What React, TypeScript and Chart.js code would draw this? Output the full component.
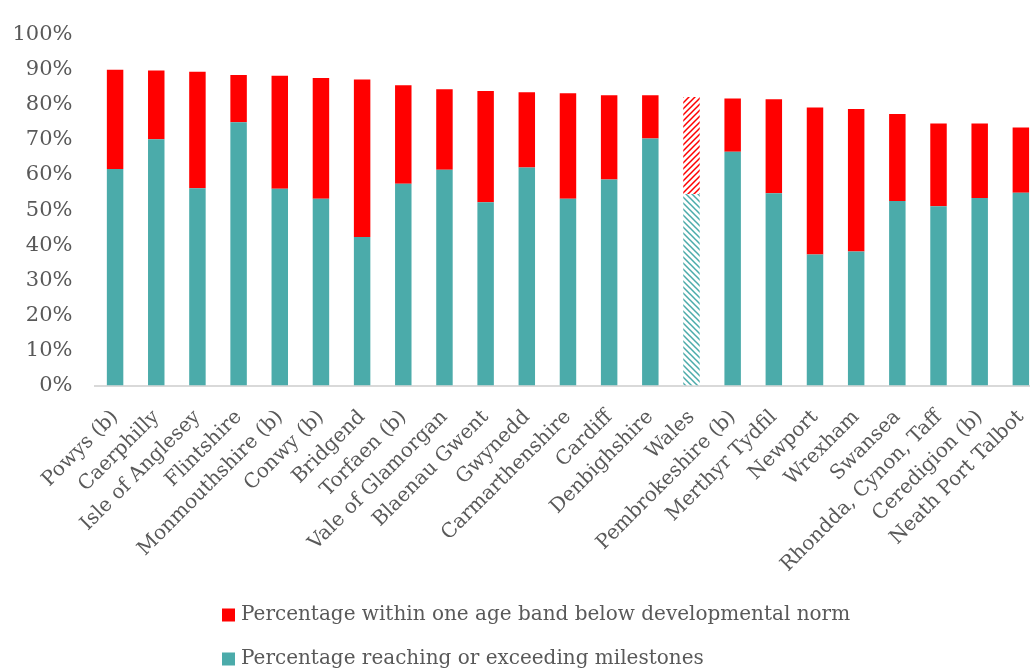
import React, { useEffect, useRef } from "react";
import { Chart, registerables } from "chart.js";

Chart.register(...registerables);

// Local authorities, ordered by total share within or above the developmental norm
const categories = [
  "Powys (b)",
  "Caerphilly",
  "Isle of Anglesey",
  "Flintshire",
  "Monmouthshire (b)",
  "Conwy (b)",
  "Bridgend",
  "Torfaen (b)",
  "Vale of Glamorgan",
  "Blaenau Gwent",
  "Gwynedd",
  "Carmarthenshire",
  "Cardiff",
  "Denbighshire",
  "Wales",
  "Pembrokeshire (b)",
  "Merthyr Tydfil",
  "Newport",
  "Wrexham",
  "Swansea",
  "Rhondda, Cynon, Taff",
  "Ceredigion (b)",
  "Neath Port Talbot",
];

// Percentage reaching or exceeding milestones
const reachingValues = [
  61.7, 70.2, 56.2, 75.0, 56.1, 53.2, 42.3, 57.5, 61.5, 52.2, 62.1, 53.2, 58.7,
  70.4, 54.6, 66.6, 54.8, 37.3, 38.2, 52.6, 51.1, 53.4, 54.9,
];

// Percentage within one age band below developmental norm
const withinOneBandValues = [
  28.3, 19.6, 33.2, 13.5, 32.2, 34.4, 44.9, 28.1, 22.9, 31.7, 21.5, 30.1, 24.0,
  12.3, 27.6, 15.2, 26.8, 41.9, 40.6, 24.8, 23.6, 21.3, 18.6,
];

const yTickValues = [0, 10, 20, 30, 40, 50, 60, 70, 80, 90, 100];

const seriesLabels = [
  "Percentage reaching or exceeding milestones",
  "Percentage within one age band below developmental norm",
];

const TEAL = "#4babaa";
const RED = "#ff0000";
const TEXT = "#595959";
const FONT = "'DejaVu Serif', 'Liberation Serif', serif";
const HIGHLIGHT = "Wales";

// Diagonal hatch used for the all-Wales bar
function makeHatch(color: string, upward: boolean): CanvasPattern | string {
  const size = 6;
  const c = document.createElement("canvas");
  c.width = size;
  c.height = size;
  const g = c.getContext("2d");
  if (!g) return color;
  g.fillStyle = "#ffffff";
  g.fillRect(0, 0, size, size);
  g.strokeStyle = color;
  g.lineWidth = 1.5;
  g.beginPath();
  if (upward) {
    g.moveTo(-1, size + 1);
    g.lineTo(size + 1, -1);
    g.moveTo(-1, 1);
    g.lineTo(1, -1);
    g.moveTo(size - 1, size + 1);
    g.lineTo(size + 1, size - 1);
  } else {
    g.moveTo(-1, -1);
    g.lineTo(size + 1, size + 1);
    g.moveTo(size - 1, -1);
    g.lineTo(size + 1, 1);
    g.moveTo(-1, size - 1);
    g.lineTo(1, size + 1);
  }
  g.stroke();
  return g.createPattern(c, "repeat") || color;
}

// Legend drawn as two left-aligned rows beneath the axis labels
const stackedLegend = {
  id: "stackedLegend",
  afterDraw(chart: Chart) {
    const { ctx } = chart;
    const items = chart.data.datasets
      .map((ds) => ({ label: ds.label as string, color: (ds as any).legendColor as string }))
      .reverse();
    const x = 222;
    const rows = [615, 659];
    ctx.save();
    ctx.font = `20px ${FONT}`;
    ctx.textBaseline = "middle";
    ctx.textAlign = "left";
    items.forEach((item, k) => {
      const y = rows[k];
      ctx.fillStyle = item.color;
      ctx.fillRect(x, y - 6.5, 13, 13);
      ctx.fillStyle = TEXT;
      ctx.fillText(item.label, x + 19, y);
    });
    ctx.restore();
  },
};

export default function App() {
  const canvasRef = useRef<HTMLCanvasElement | null>(null);

  useEffect(() => {
    const canvas = canvasRef.current;
    if (!canvas) return;

    const tealHatch = makeHatch(TEAL, false);
    const redHatch = makeHatch(RED, true);

    const chart = new Chart(canvas, {
      type: "bar",
      data: {
        labels: categories,
        datasets: [
          {
            label: seriesLabels[0],
            data: reachingValues,
            backgroundColor: categories.map((c) => (c === HIGHLIGHT ? tealHatch : TEAL)),
            borderWidth: 0,
            barPercentage: 0.4,
            categoryPercentage: 1,
            legendColor: TEAL,
          } as any,
          {
            label: seriesLabels[1],
            data: withinOneBandValues,
            backgroundColor: categories.map((c) => (c === HIGHLIGHT ? redHatch : RED)),
            borderWidth: 0,
            barPercentage: 0.4,
            categoryPercentage: 1,
            legendColor: RED,
          } as any,
        ],
      },
      options: {
        animation: false,
        responsive: true,
        maintainAspectRatio: false,
        layout: { padding: { top: 27, right: 8, bottom: 50, left: 0 } },
        plugins: {
          legend: { display: false },
          tooltip: { enabled: false },
        },
        scales: {
          x: {
            stacked: true,
            grid: { display: false, drawTicks: false },
            border: { display: true, color: "#d9d9d9", width: 2 },
            ticks: {
              autoSkip: false,
              maxRotation: 45,
              minRotation: 45,
              padding: 20,
              color: TEXT,
              font: { family: FONT, size: 20 },
            },
            afterFit: (scale: any) => {
              scale.height = 671 - 385.5 - 50;
            },
          },
          y: {
            stacked: true,
            min: 0,
            max: 100,
            grid: { display: false, drawTicks: false },
            border: { display: false },
            afterBuildTicks: (scale: any) => {
              scale.ticks = yTickValues.map((v) => ({ value: v }));
            },
            ticks: {
              padding: 22,
              color: TEXT,
              font: { family: FONT, size: 21 },
              callback: (v: any) => `${v}%`,
            },
            afterFit: (scale: any) => {
              scale.width = 94.5;
            },
          },
        },
      },
      plugins: [stackedLegend],
    });

    return () => chart.destroy();
  }, []);

  return (
    <div
      style={{
        position: "fixed",
        left: 0,
        top: 0,
        width: 1030,
        height: 671,
        overflow: "hidden",
        background: "#ffffff",
      }}
    >
      <div style={{ position: "relative", width: 1058, height: 671 }}>
        <canvas ref={canvasRef} />
      </div>
    </div>
  );
}
